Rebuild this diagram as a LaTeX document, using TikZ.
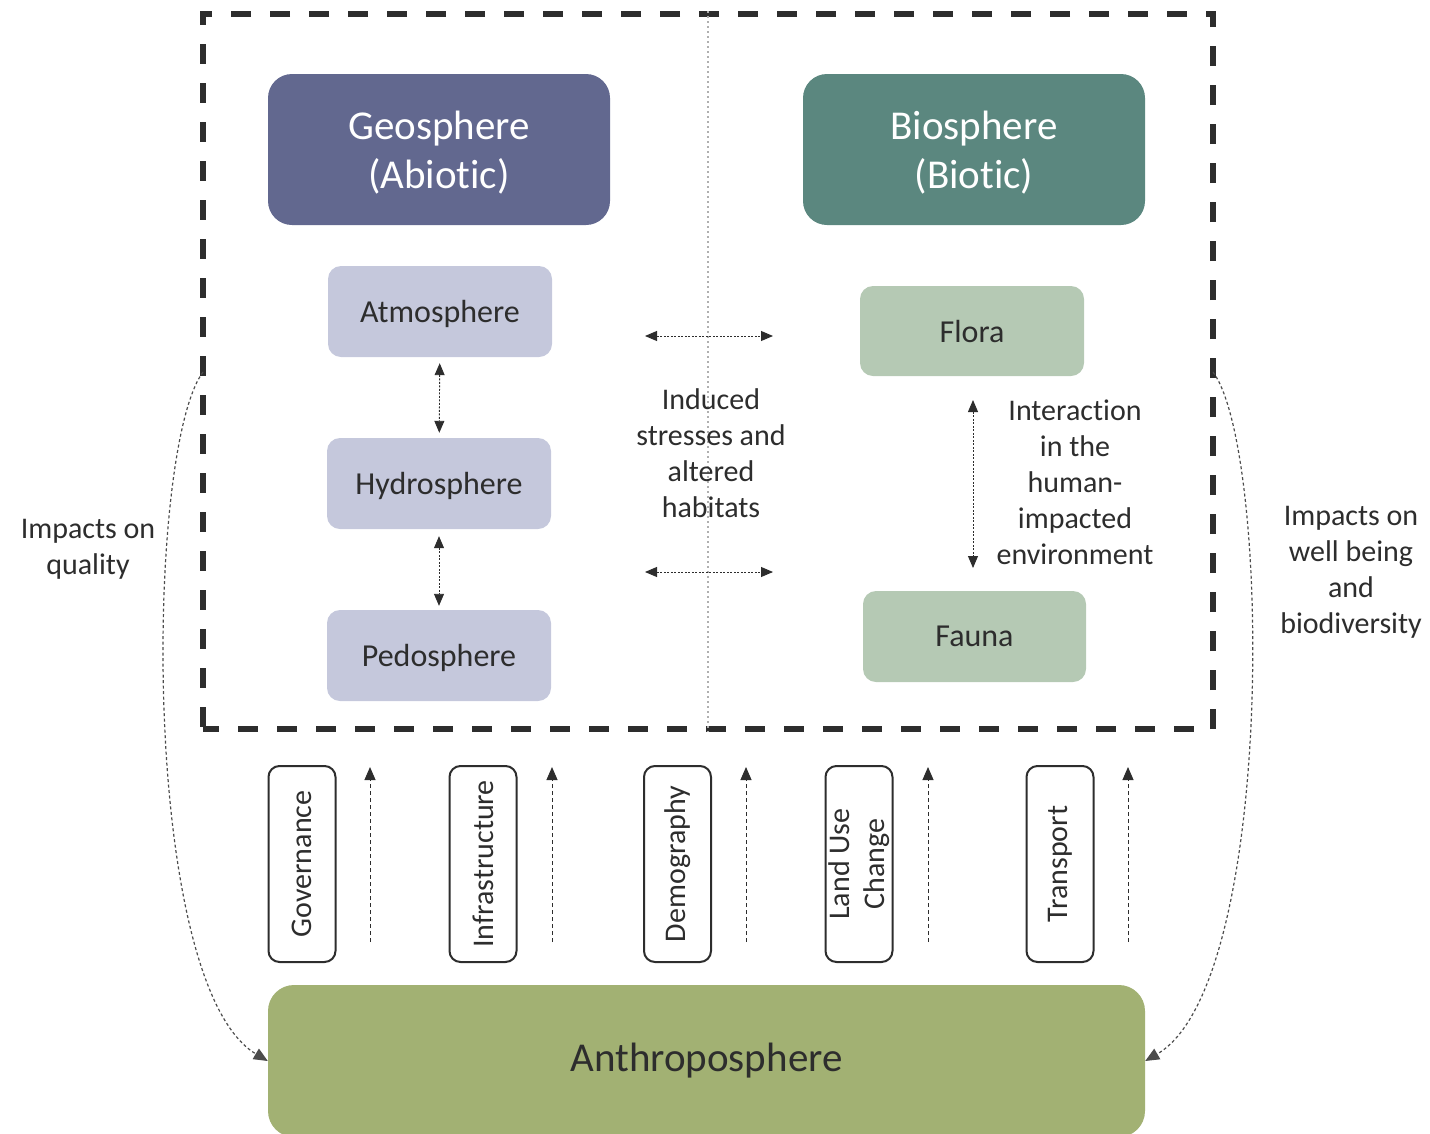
\documentclass[tikz,border=0pt]{standalone}
\usepackage{fontspec}
\setmainfont{Carlito}[Ligatures=NoCommon]
\usetikzlibrary{arrows.meta,calc}
\definecolor{geo}{RGB}{98,104,143}
\definecolor{bio}{RGB}{91,135,127}
\definecolor{geolight}{RGB}{197,200,220}
\definecolor{biolight}{RGB}{181,201,180}
\definecolor{anthro}{RGB}{162,177,115}
\definecolor{ink}{RGB}{45,45,45}
\definecolor{divider}{RGB}{175,175,175}
\begin{document}
\begin{tikzpicture}[x=1pt,y=-1pt,
  bigbox/.style={rounded corners=24pt, text=white, align=center,
    font=\fontsize{41}{49}\selectfont, inner sep=0pt, text depth=0pt,
    minimum width=342pt, minimum height=151pt},
  sphere/.style={rounded corners=13pt, text=ink, inner sep=0pt, text depth=0pt,
    font=\fontsize{32}{38}\selectfont,
    minimum width=224pt, minimum height=91pt},
  driver/.style={draw=ink, line width=2pt, rounded corners=11pt, fill=white,
    rotate=90, text=ink, align=center, inner sep=0pt,
    font=\fontsize{30}{35}\selectfont,
    minimum width=196pt, minimum height=67pt},
  note/.style={text=ink, align=center, inner sep=0pt,
    font=\fontsize{30}{36}\selectfont},
  link/.style={ink, line width=0.9pt, dash pattern=on 2pt off 1.5pt,
    {Triangle[length=12pt,width=10pt]}-{Triangle[length=12pt,width=10pt]}},
  push/.style={ink, line width=1pt, dash pattern=on 4pt off 3pt,
    -{Triangle[length=13pt,width=11pt]}},
  feedback/.style={ink!85, line width=1.2pt, dash pattern=on 3pt off 2.5pt,
    -{Triangle[length=14pt,width=12pt]}}
]
\useasboundingbox (0,0) rectangle (1430,1133);

% system boundary and the divide between abiotic and biotic sides
\node[draw=ink, line width=5.5pt, dash pattern=on 20pt off 19pt, dash phase=4pt,
  minimum width=1010pt, minimum height=715pt, inner sep=0pt] (frame) at (708,371.5) {};
\draw[divider, line width=2pt, dash pattern=on 2pt off 3pt] (frame.north) -- (frame.south);

% headline spheres
\node[bigbox, fill=geo] (geo) at (439,149.5) {Geosphere\\(Abiotic)};
\node[bigbox, fill=bio] (bio) at (974,149.5) {Biosphere\\(Biotic)};

% abiotic compartments
\node[sphere, fill=geolight] (atmo) at (440,311.5) {Atmosphere};
\node[sphere, fill=geolight] (hydro) at (439,483.5) {Hydrosphere};
\node[sphere, fill=geolight] (pedo) at (439,655.5) {Pedosphere};
\draw[link, shorten <=6pt, shorten >=5pt] (atmo) -- (hydro);
\draw[link, shorten <=7pt, shorten >=4pt] (hydro) -- (pedo);

% biotic compartments
\node[sphere, fill=biolight, minimum height=90pt] (flora) at (972,331) {Flora};
\node[sphere, fill=biolight, minimum width=223pt] (fauna) at (974.5,636.5) {Fauna};
\coordinate (fl) at (973,400);
\coordinate (fa) at (973,568);
\draw[link] (fl) -- (fa);
\node[note] (interaction) at (1075,482) {Interaction\\in the\\human-\\impacted\\environment};

% exchange across the divide
\coordinate (ua) at (645,336);
\coordinate (ub) at (773,336);
\coordinate (la) at (645,572);
\coordinate (lb) at (773,572);
\draw[link] (ua) -- (ub);
\draw[link] (la) -- (lb);
\node[note] (induced) at (711,453) {Induced\\stresses and\\altered\\habitats};

% human sphere and its drivers
\node[fill=anthro, rounded corners=26pt, minimum width=877pt, minimum height=152pt,
  inner sep=0pt, text=ink, font=\fontsize{41}{49}\selectfont] (anthro) at (706.5,1061) {Anthroposphere};

\node[driver] (gov) at (302,864) {Governance};
\node[driver] (infra) at (483,864) {Infrastructure};
\node[driver] (demo) at (677.5,864) {Demography};
\node[driver] (land) at (859,864) {Land Use\\Change};
\node[driver] (trans) at (1060,864) {Transport};

\foreach \x/\n in {370/a,552/b,746/c,928/d,1128/e}{
  \coordinate (s\n) at (\x,942);
  \coordinate (t\n) at (\x,767);
  \draw[push] (s\n) -- (t\n);
}

% feedback loops to the anthroposphere
\coordinate (lq) at (203,372);
\coordinate (rq) at (1213,372);
\draw[feedback] (lq) .. controls (145,450) and (140,985) .. (anthro.west);
\draw[feedback] (rq) .. controls (1271,450) and (1276,985) .. (anthro.east);
\node[note] (quality) at (88,549) {Impacts on\\quality};
\node[note] (wellbeing) at (1351,572.5) {Impacts on\\well being\\and\\biodiversity};
\end{tikzpicture}
\end{document}
